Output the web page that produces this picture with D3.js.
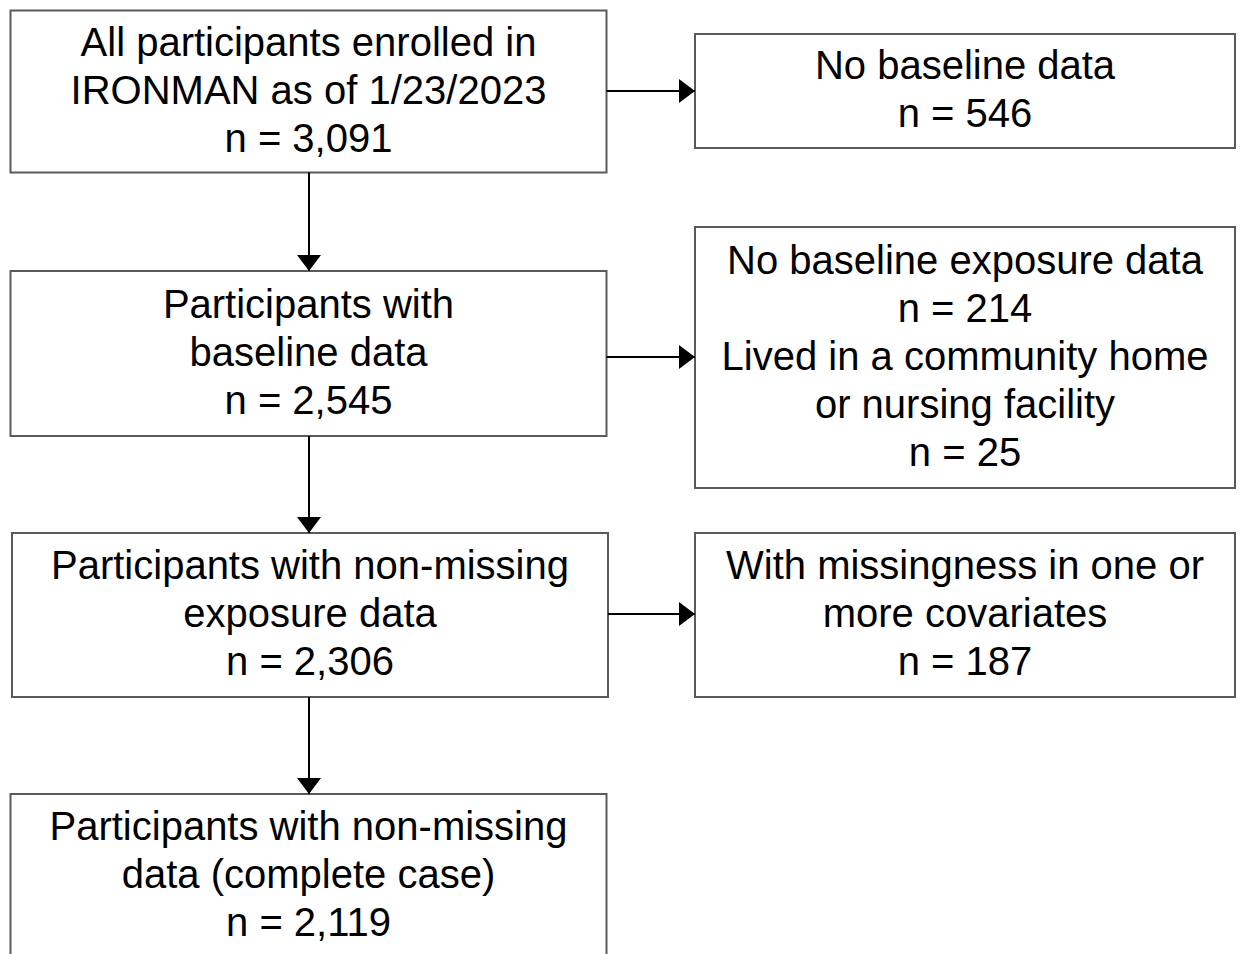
<!DOCTYPE html>
<html>
<head>
<meta charset="utf-8">
<script src="https://cdn.jsdelivr.net/npm/d3@7"></script>
<style>
  body { margin: 0; background: #fff; }
  .box { fill: #fff; stroke: #5a5a5a; stroke-width: 2; }
  .arrow { stroke: #000; stroke-width: 2; }
  .label { font-family: "Liberation Sans", Arial, sans-serif; font-size: 40px; fill: #000; text-anchor: middle; }
</style>
</head>
<body>
<div id="vis"></div>
<script>
// flow steps (left column) and exclusions (right column)
const mainSteps = [
  ["All participants enrolled in", "IRONMAN as of 1/23/2023", "n = 3,091"],
  ["Participants with", "baseline data", "n = 2,545"],
  ["Participants with non-missing", "exposure data", "n = 2,306"],
  ["Participants with non-missing", "data (complete case)", "n = 2,119"]
];
const exclusions = [
  ["No baseline data", "n = 546"],
  ["No baseline exposure data", "n = 214", "Lived in a community home", "or nursing facility", "n = 25"],
  ["With missingness in one or", "more covariates", "n = 187"]
];

const FRAME_WIDTH = 1240;
const FRAME_HEIGHT = 954;
const LINE_H = 48;

// box geometry
const mainBoxes = [
  {x: 10.5, y: 10.5, w: 596, h: 162},
  {x: 10.5, y: 271, w: 596, h: 165},
  {x: 12, y: 533, w: 596, h: 164},
  {x: 10.5, y: 794, w: 596, h: 164}
];
const sideBoxes = [
  {x: 695, y: 34, w: 540, h: 114},
  {x: 695, y: 227, w: 540, h: 261},
  {x: 695, y: 533, w: 540, h: 164}
];
const sideArrowY = [91, 357, 614];

const svg = d3.select("#vis").append("svg")
  .attr("width", FRAME_WIDTH)
  .attr("height", FRAME_HEIGHT);

const defs = svg.append("defs");
defs.append("marker")
  .attr("id", "head")
  .attr("viewBox", "0 0 16 24")
  .attr("refX", 16).attr("refY", 12)
  .attr("markerWidth", 8).attr("markerHeight", 12)
  .attr("markerUnits", "strokeWidth")
  .attr("orient", "auto")
  .append("path").attr("d", "M0,0 L16,12 L0,24 Z").attr("fill", "#000");

function drawBox(b, lines) {
  const g = svg.append("g");
  g.append("rect").attr("class", "box")
    .attr("x", b.x).attr("y", b.y).attr("width", b.w).attr("height", b.h);
  const cx = b.x + b.w / 2, cy = b.y + b.h / 2;
  g.selectAll("text").data(lines).enter().append("text")
    .attr("class", "label")
    .attr("x", cx)
    .attr("y", (d, i) => cy + (i - (lines.length - 1) / 2) * LINE_H + 12)
    .text(d => d);
}

mainSteps.forEach((lines, i) => drawBox(mainBoxes[i], lines));
exclusions.forEach((lines, i) => drawBox(sideBoxes[i], lines));

// vertical arrows
for (let i = 0; i < mainBoxes.length - 1; i++) {
  const a = mainBoxes[i], b = mainBoxes[i + 1];
  svg.append("line").attr("class", "arrow")
    .attr("x1", 309).attr("x2", 309)
    .attr("y1", a.y + a.h).attr("y2", b.y)
    .attr("marker-end", "url(#head)");
}

// horizontal arrows
sideArrowY.forEach((y, i) => {
  svg.append("line").attr("class", "arrow")
    .attr("x1", mainBoxes[i].x + mainBoxes[i].w).attr("x2", sideBoxes[i].x)
    .attr("y1", y).attr("y2", y)
    .attr("marker-end", "url(#head)");
});
</script>
</body>
</html>
